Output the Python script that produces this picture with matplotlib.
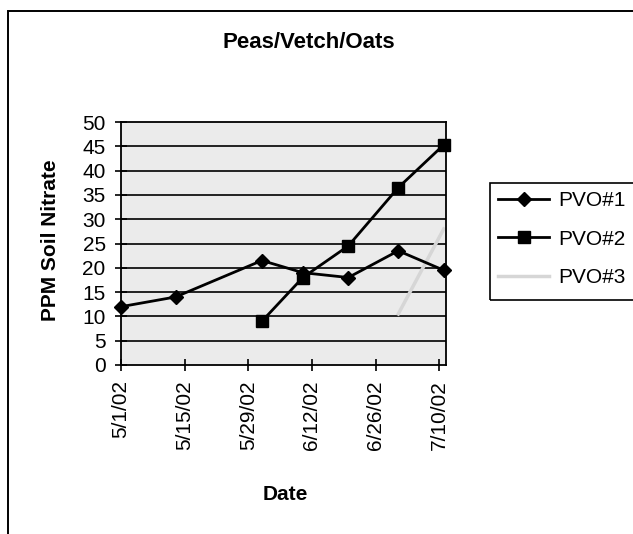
import matplotlib
matplotlib.use("Agg")
import matplotlib.pyplot as plt
from matplotlib.patches import Rectangle
from datetime import datetime

plt.rcParams["font.family"] = ["Liberation Sans", "DejaVu Sans"]

# data
pvo1_dates = ["2002-05-01", "2002-05-13", "2002-06-01", "2002-06-10", "2002-06-20", "2002-07-01", "2002-07-11"]
pvo1_vals = [12, 14, 21.5, 19, 18, 23.5, 19.5]
pvo2_dates = ["2002-06-01", "2002-06-10", "2002-06-20", "2002-07-01", "2002-07-11"]
pvo2_vals = [9, 18, 24.5, 36.5, 45.3]
pvo3_dates = ["2002-07-01", "2002-07-11"]
pvo3_vals = [10.5, 28]
series_names = ["PVO#1", "PVO#2", "PVO#3"]

tick_dates = ["2002-05-01", "2002-05-15", "2002-05-29", "2002-06-12", "2002-06-26", "2002-07-10"]
tick_labels = ["5/1/02", "5/15/02", "5/29/02", "6/12/02", "6/26/02", "7/10/02"]
y_ticks = list(range(0, 51, 5))


def to_dt(values):
    return [datetime.strptime(v, "%Y-%m-%d") for v in values]


W, H = 633, 534
fig = plt.figure(figsize=(W / 100, H / 100), dpi=100)
fig.patch.set_facecolor("white")

# outer chart border (runs off the right and bottom edges in the scan)
fig.patches.append(Rectangle((8 / W, -0.1), 1.2, 1.1 - 11 / H, transform=fig.transFigure,
                             fill=False, edgecolor="black", linewidth=1.4))
# legend box, also cut off by the right edge
fig.patches.append(Rectangle((490 / W, 1 - 300 / H), 0.5, (300 - 183) / H,
                             transform=fig.transFigure, fill=False,
                             edgecolor="black", linewidth=1.2))

ax = fig.add_axes([121 / W, 1 - 365 / H, (446 - 121) / W, (365 - 122) / H])
ax.set_facecolor("#ebebeb")

for y in y_ticks[1:-1]:
    ax.axhline(y, color="black", linewidth=1.2, zorder=1)

ax.plot(to_dt(pvo1_dates), pvo1_vals, color="black", linewidth=2, marker="D",
        markersize=7, label=series_names[0], zorder=3, clip_on=False)
ax.plot(to_dt(pvo2_dates), pvo2_vals, color="black", linewidth=2, marker="s",
        markersize=8, label=series_names[1], zorder=3, clip_on=False)
ax.plot(to_dt(pvo3_dates), pvo3_vals, color="#d6d6d6", linewidth=2.5,
        label=series_names[2], zorder=2)

ax.set_ylim(0, 50)
ax.set_yticks(y_ticks)
ax.set_xlim(datetime(2002, 5, 1), datetime(2002, 7, 11, 12))
ax.set_xticks(to_dt(tick_dates))
ax.set_xticklabels(tick_labels, rotation=90, fontsize=15)
ax.tick_params(axis="y", labelsize=15, direction="inout", length=8, width=1.2, pad=7)
ax.tick_params(axis="x", direction="inout", length=8, width=1.2, pad=7)
for s in ax.spines.values():
    s.set_color("black")
    s.set_linewidth(1.3)

fig.text(222 / W, 1 - 48 / H, "Peas/Vetch/Oats", ha="left", va="baseline",
         fontsize=16, fontweight="bold")
fig.text(51 / W, 1 - 240 / H, "PPM Soil Nitrate", ha="center", va="center",
         rotation=90, fontsize=15, fontweight="bold")
fig.text(285 / W, 1 - 495 / H, "Date", ha="center", va="center",
         fontsize=15, fontweight="bold")

fig.legend(loc="upper left", bbox_to_anchor=(490 / W, 1 - 183 / H),
           bbox_transform=fig.transFigure, borderaxespad=0, fontsize=15,
           frameon=False, handlelength=2.45, handletextpad=0.45,
           labelspacing=0.93, borderpad=0.4)

fig.savefig("out.png", dpi=100)
